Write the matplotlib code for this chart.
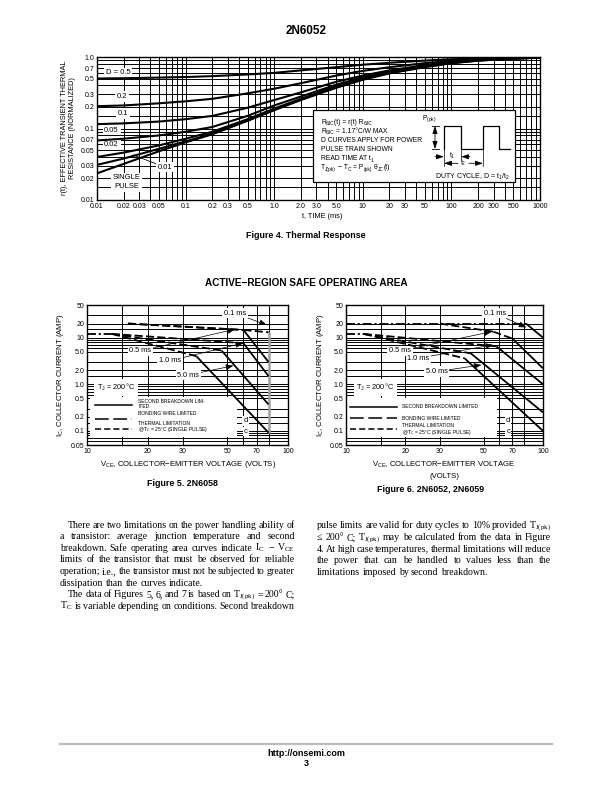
import matplotlib
matplotlib.use('Agg')
import matplotlib.pyplot as plt
from matplotlib import font_manager
from matplotlib.patches import Rectangle
from matplotlib.ticker import FixedLocator, FixedFormatter, NullFormatter

# fonts
names = {f.name for f in font_manager.fontManager.ttflist}
NARROW = 'Liberation Sans Narrow' if 'Liberation Sans Narrow' in names else 'Liberation Sans'
SANS = 'Liberation Sans'
SERIF = 'Liberation Serif'
plt.rcParams['font.family'] = [NARROW, 'DejaVu Sans']
plt.rcParams['mathtext.default'] = 'regular'

# ---------------- data ----------------
# Figure 4, thermal response
t_ms = [0.01, 0.02, 0.05, 0.1, 0.2, 0.5, 1, 2, 5, 10, 20, 50, 100, 200, 500, 1000]
r_d050 = [0.50, 0.505, 0.515, 0.525, 0.54, 0.57, 0.60, 0.65, 0.72, 0.78, 0.83, 0.89, 0.93, 0.96, 0.98, 1.0]
r_d020 = [0.205, 0.21, 0.225, 0.24, 0.26, 0.31, 0.36, 0.43, 0.55, 0.64, 0.72, 0.82, 0.88, 0.93, 0.97, 0.99]
r_d010 = [0.115, 0.118, 0.125, 0.135, 0.15, 0.195, 0.25, 0.32, 0.45, 0.55, 0.65, 0.77, 0.85, 0.91, 0.96, 0.98]
r_d005 = [0.068, 0.072, 0.08, 0.09, 0.105, 0.15, 0.21, 0.28, 0.41, 0.52, 0.62, 0.75, 0.84, 0.90, 0.95, 0.98]
r_d002 = [0.04, 0.046, 0.058, 0.072, 0.09, 0.135, 0.19, 0.26, 0.39, 0.50, 0.61, 0.74, 0.83, 0.90, 0.95, 0.98]
r_d001 = [0.031, 0.038, 0.052, 0.066, 0.085, 0.13, 0.185, 0.255, 0.38, 0.49, 0.60, 0.73, 0.82, 0.89, 0.95, 0.98]
r_single = [0.0236, 0.032, 0.048, 0.064, 0.083, 0.128, 0.18, 0.25, 0.37, 0.48, 0.59, 0.72, 0.82, 0.89, 0.95, 0.98]
fig4_curves = [r_d050, r_d020, r_d010, r_d005, r_d002, r_d001, r_single]
fig4_labels = ['D = 0.5', '0.2', '0.1', '0.05', '0.02', '0.01', 'SINGLE\nPULSE']
fig4_label_t = [0.0174, 0.019, 0.0198, 0.0146, 0.0146, 0.0585, 0.0216]
fig4_label_r = [0.60, 0.279, 0.163, 0.095, 0.060, 0.0287, 0.0177]
fig4_xticks = [0.01, 0.02, 0.03, 0.05, 0.1, 0.2, 0.3, 0.5, 1, 2, 3, 5, 10, 20, 30, 50, 100, 200, 300, 500, 1000]
fig4_xticklabels = ['0.01', '0.02', '0.03', '0.05', '0.1', '0.2', '0.3', '0.5', '1.0', '2.0', '3.0', '5.0',
                    '10', '20', '30', '50', '100', '200', '300', '500', '1000']
fig4_yticks = [0.01, 0.02, 0.03, 0.05, 0.07, 0.1, 0.2, 0.3, 0.5, 0.7, 1.0]
fig4_yticklabels = ['0.01', '0.02', '0.03', '0.05', '0.07', '0.1', '0.2', '0.3', '0.5', '0.7', '1.0']
# info box lines: (text, is_subscript); a leading space means a word gap
fig4_info = [[('R', 0), ('θJC', 1), ('(t) = r(t) R', 0), ('θJC', 1)],
             [('R', 0), ('θJC', 1), (' = 1.17°C/W MAX', 0)],
             [('D CURVES APPLY FOR POWER', 0)],
             [('PULSE TRAIN SHOWN', 0)],
             [('READ TIME AT t', 0), ('1', 1)],
             [('T', 0), ('J(pk)', 1), (' − T', 0), ('C', 1), (' = P', 0), ('(pk)', 1),
              (' θ', 0), ('JC', 1), ('(t)', 0)]]

# Figure 5 (2N6058) and Figure 6 (2N6052, 2N6059): (VCE, IC) corners + segment style
# styles: bw = bonding wire, th = thermal, sb = second breakdown, vc = VCEO edge
f5_v = {'0.1 ms': [16, 60, 80, 80], '0.5 ms': [16, 60, 80], '1.0 ms': [13.3, 60, 80],
        '5.0 ms': [13.3, 46.7, 80], 'dc': [10, 13.3, 35, 80]}
f5_i = {'0.1 ms': [20, 14.6, 13, 0.09], '0.5 ms': [20, 14.6, 3.0], '1.0 ms': [12, 7.6, 1.5],
        '5.0 ms': [12, 5.3, 0.37], 'dc': [12, 12, 4.0, 0.092]}
f5_s = {'0.1 ms': ['th', 'th', 'vc'], '0.5 ms': ['th', 'sb'], '1.0 ms': ['th', 'sb'],
        '5.0 ms': ['th', 'sb'], 'dc': ['bw', 'th', 'sb']}

f6_v = {'0.1 ms': [10, 82, 100], '0.5 ms': [30, 56, 70, 100], '1.0 ms': [12.3, 58, 100],
        '5.0 ms': [12.3, 43, 100], 'dc': [10, 12.3, 40, 100]}
f6_i = {'0.1 ms': [20, 20, 10], '0.5 ms': [20, 13.4, 9.5, 2.2], '1.0 ms': [12, 6.5, 1.0],
        '5.0 ms': [12, 4.6, 0.25], 'dc': [12, 12, 3.6, 0.1]}
f6_s = {'0.1 ms': ['bw', 'sb'], '0.5 ms': ['th', 'th', 'sb'], '1.0 ms': ['th', 'sb'],
        '5.0 ms': ['th', 'sb'], 'dc': ['bw', 'th', 'sb']}

# label text positions and pointer targets
f5_lab = {'0.1 ms': ((54.5, 33.2), (78.4, 18.7)), '0.5 ms': ((18.4, 5.18), (54.5, 15.1)),
          '1.0 ms': ((25.9, 3.21), (59.8, 7.6)), '5.0 ms': ((31.9, 1.58), (53.5, 2.5))}
f6_lab = {'0.1 ms': ((57.0, 33.2), (82.3, 16.5)), '0.5 ms': ((18.8, 5.18), (54.8, 13.4)),
          '1.0 ms': ((23.3, 3.61), (55.8, 7.0)), '5.0 ms': ((28.9, 1.87), (48.7, 2.6))}

soa_xticks = [10, 20, 30, 50, 70, 100]
soa_xgrid = [15, 20, 30, 50, 60, 70, 80]
soa_yticks = [0.05, 0.1, 0.2, 0.5, 1.0, 2.0, 5.0, 10, 20, 50]
soa_yticklabels = ['0.05', '0.1', '0.2', '0.5', '1.0', '2.0', '5.0', '10', '20', '50']
soa_ymult = [1, 1.5, 2, 3, 5, 6, 7, 8, 9]

body_left = ['There are two limitations on the power handling ability of',
             'a transistor: average junction temperature and second',
             'breakdown. Safe operating area curves indicate I$_C$ − V$_{CE}$',
             'limits of the transistor that must be observed for reliable',
             'operation; i.e., the transistor must not be subjected to greater',
             'dissipation than the curves indicate.',
             'The data of Figures 5, 6, and 7 is based on T$_{J(pk)}$ = 200° C;',
             'T$_C$ is variable depending on conditions. Second breakdown']
body_left_indent = [1, 0, 0, 0, 0, 0, 1, 0]
body_left_last = [0, 0, 0, 0, 0, 1, 0, 0]
body_right = ['pulse limits are valid for duty cycles to 10% provided T$_{J(pk)}$',
              '≤  200° C; T$_{J(pk)}$ may be calculated from the data in Figure',
              '4. At high case temperatures, thermal limitations will reduce',
              'the power that can be handled to values less than the',
              'limitations imposed by second breakdown.']
body_right_indent = [0, 0, 0, 0, 0]
body_right_last = [0, 0, 0, 0, 1]

# ---------------- figure ----------------
fig = plt.figure(figsize=(6.12, 7.92), dpi=100)


def px_axes(l, t, r, b):
    return fig.add_axes([l / 612, 1 - b / 792, (r - l) / 612, (b - t) / 792])


def log_grid(lo, hi, mult):
    out = []
    d = lo
    while d < hi * 0.999:
        out += [d * m for m in mult if lo <= d * m <= hi]
        d *= 10
    out.append(hi)
    return out


def setup_log(ax, xlim, ylim, xt, xtl, yt, ytl, xg, yg):
    ax.set_xscale('log')
    ax.set_yscale('log')
    ax.set_xlim(*xlim)
    ax.set_ylim(*ylim)
    ax.xaxis.set_major_locator(FixedLocator(xt))
    ax.xaxis.set_major_formatter(FixedFormatter(xtl))
    ax.yaxis.set_major_locator(FixedLocator(yt))
    ax.yaxis.set_major_formatter(FixedFormatter(ytl))
    ax.xaxis.set_minor_locator(FixedLocator(xg))
    ax.yaxis.set_minor_locator(FixedLocator(yg))
    ax.xaxis.set_minor_formatter(NullFormatter())
    ax.yaxis.set_minor_formatter(NullFormatter())
    ax.tick_params(which='both', length=0, labelsize=5, pad=2)
    ax.grid(which='both', color='k', lw=0.7)
    ax.set_axisbelow(True)
    for s in ax.spines.values():
        s.set_linewidth(1.0)


box = dict(facecolor='white', edgecolor='none', pad=1.2)

# ----- Figure 4 -----
ax4 = px_axes(97, 57, 540, 200)
setup_log(ax4, (0.01, 1000), (0.01, 1.0), fig4_xticks, fig4_xticklabels,
          fig4_yticks, fig4_yticklabels,
          log_grid(0.01, 1000, range(1, 10)), log_grid(0.01, 1.0, [1, 1.5, 2, 3, 4, 5, 6, 7, 8, 9]))
for r in fig4_curves:
    ax4.plot(t_ms, r, color='k', lw=1.5, zorder=3, solid_capstyle='butt')
for lab, tx, ry in zip(fig4_labels, fig4_label_t, fig4_label_r):
    if lab == '0.01':
        ax4.annotate(lab, xy=(0.0257, 0.0426), xytext=(tx, ry), ha='center', va='center',
                     fontsize=5.5, bbox=box, zorder=2.5,
                     arrowprops=dict(arrowstyle='-', lw=0.6, shrinkA=0, shrinkB=0))
    else:
        ax4.text(tx, ry, lab, ha='center', va='center', fontsize=5.5, bbox=box,
                 zorder=2.5, linespacing=1.35)

# ----- Figures 5, 6 -----
styles = {'sb': dict(color='k', ls='-', lw=1.3),
          'th': dict(color='k', ls=(0, (4.5, 1.8)), lw=1.3),
          'bw': dict(color='k', ls=(0, (5, 1.5, 1.2, 1.5)), lw=1.3),
          'vc': dict(color='#a0a0a0', ls='-', lw=1.8)}


def soa(ax, V, I, S, labs, legend_rows, leg_box, legx, txt_x, tj, dc_xy):
    setup_log(ax, (10, 100), (0.05, 50), soa_xticks, [str(v) for v in soa_xticks],
              soa_yticks, soa_yticklabels, soa_xgrid, log_grid(0.01, 50, soa_ymult))
    for key in V:
        v, i, s = V[key], I[key], S[key]
        for k in range(len(s)):
            ax.plot(v[k:k + 2], i[k:k + 2], zorder=3, solid_capstyle='butt', **styles[s[k]])
    for key, (txt, tip) in labs.items():
        ax.annotate(key, xy=tip, xytext=txt, ha='center', va='center', fontsize=5.3,
                    bbox=box, zorder=2.5,
                    arrowprops=dict(arrowstyle='-|>,head_length=0.9,head_width=0.35',
                                    mutation_scale=5, lw=0.5, color='k',
                                    shrinkA=0, shrinkB=0))
    ax.text(tj[0], tj[1], 'T$_J$ = 200°C', ha='left', va='center', fontsize=5.3,
            bbox=dict(facecolor='white', edgecolor='none', pad=2), zorder=2.5)
    ax.text(dc_xy[0], dc_xy[1], 'd', ha='center', va='center', fontsize=5.5, zorder=2.5,
            bbox=dict(facecolor='white', edgecolor='none', pad=0.8))
    ax.text(dc_xy[0], dc_xy[2], 'c', ha='center', va='center', fontsize=5.5, zorder=2.5,
            bbox=dict(facecolor='white', edgecolor='none', pad=0.8))
    ax.add_patch(Rectangle((leg_box[0], leg_box[1]), leg_box[2], leg_box[3],
                           transform=ax.transAxes, facecolor='white', edgecolor='none', zorder=2))
    leg_ls = {'sb': '-', 'bw': (0, (9, 3)), 'th': (0, (4, 2))}
    for kind, ly, texts in legend_rows:
        if kind:
            ax.plot(legx, [ly, ly], transform=ax.transAxes, color='k', lw=1.1,
                    ls=leg_ls[kind], zorder=4)
        for tt, ty in texts:
            ax.text(txt_x, ty, tt, transform=ax.transAxes, fontsize=3.6, va='center',
                    ha='left', zorder=4)


ax5 = px_axes(87, 305, 288, 445)
soa(ax5, f5_v, f5_i, f5_s, f5_lab,
    [('sb', 0.286, [('SECOND BREAKDOWN LIM-', 0.312), ('ITED', 0.272)]),
     ('bw', 0.186, [('BONDING WIRE LIMITED', 0.225)]),
     ('th', 0.112, [('THERMAL LIMITATION', 0.152), ('@T$_C$ = 25°C (SINGLE PULSE)', 0.108)])],
    (0.015, 0.059, 0.73, 0.285), [0.04, 0.222], 0.255, (11.2, 0.85), (61.6, 0.164, 0.097))

ax6 = px_axes(346, 305, 543, 445)
soa(ax6, f6_v, f6_i, f6_s, f6_lab,
    [('sb', 0.274, [('SECOND BREAKDOWN LIMITED', 0.274)]),
     ('bw', 0.19, [('BONDING WIRE LIMITED', 0.19)]),
     ('th', 0.112, [('THERMAL LIMITATION', 0.138), ('@T$_C$ = 25°C (SINGLE PULSE)', 0.092)])],
    (0.005, 0.059, 0.76, 0.275), [0.022, 0.258], 0.283, (11.3, 0.85), (66.5, 0.164, 0.097))

# ----- page overlay in pixel coordinates -----
page = fig.add_axes([0, 0, 1, 1], zorder=10)
page.set_xlim(0, 612)
page.set_ylim(792, 0)
page.axis('off')
page.patch.set_alpha(0)
renderer = fig.canvas.get_renderer()

page.text(306, 31, '2N6052', ha='center', va='center', fontsize=8.5, weight='bold', family=SANS)
page.text(306, 236, 'Figure 4. Thermal Response', ha='center', va='center', fontsize=6.4,
          weight='bold', family=SANS)
page.text(306, 283, 'ACTIVE−REGION SAFE OPERATING AREA', ha='center', va='center', fontsize=7.2,
          weight='bold', family=SANS)
page.text(182, 484, 'Figure 5. 2N6058', ha='center', va='center', fontsize=6.4, weight='bold',
          family=SANS)
page.text(431, 490, 'Figure 6. 2N6052, 2N6059', ha='center', va='center', fontsize=6.4,
          weight='bold', family=SANS)

page.text(322, 216, 't, TIME (ms)', ha='center', va='center', fontsize=5.3)
page.text(69, 128, 'r(t), EFFECTIVE TRANSIENT THERMAL\nRESISTANCE (NORMALIZED)', ha='center',
          va='center', rotation=90, fontsize=5.3, linespacing=1.2)
page.text(188, 465, 'V$_{CE}$, COLLECTOR−EMITTER VOLTAGE (VOLTS)', ha='center', va='center',
          fontsize=5.6)
page.text(444, 465, 'V$_{CE}$, COLLECTOR−EMITTER VOLTAGE', ha='center', va='center', fontsize=5.6)
page.text(444, 476, '(VOLTS)', ha='center', va='center', fontsize=5.6)
page.text(61, 375, 'I$_C$, COLLECTOR CURRENT (AMP)', ha='center', va='center', rotation=90,
          fontsize=5.6)
page.text(320, 375, 'I$_C$, COLLECTOR CURRENT (AMP)', ha='center', va='center', rotation=90,
          fontsize=5.6)


def rich(x, y, parts, size):
    # plain text pieces with hand-placed subscripts
    sp = (page.text(0, 0, 'a a', fontsize=size).get_window_extent(renderer=renderer).width
          - page.text(0, 0, 'aa', fontsize=size).get_window_extent(renderer=renderer).width)
    page.texts[-1].remove()
    page.texts[-1].remove()
    for s, sub in parts:
        if s.startswith(' '):
            x += sp
            s = s.lstrip()
        fs = size * 0.72 if sub else size
        t = page.text(x, y + (1.6 if sub else 0), s, fontsize=fs, ha='left', va='baseline')
        x += t.get_window_extent(renderer=renderer).width


# thermal response info box
page.add_patch(Rectangle((313, 110), 202, 72, facecolor='white', edgecolor='k', lw=0.9))
for k, parts in enumerate(fig4_info):
    rich(321, 123.5 + k * 9.1, parts, 4.85)
pulse_x = [444, 444, 461, 461, 483, 483, 499, 499, 510]
pulse_y = [149, 126, 126, 149, 149, 126, 126, 149, 149]
page.plot(pulse_x, pulse_y, color='k', lw=0.9)
page.text(429, 118.5, 'P$_{(pk)}$', ha='center', va='center', fontsize=4.85)
page.annotate('', xy=(435, 126), xytext=(435, 149),
              arrowprops=dict(arrowstyle='<|-|>,head_length=0.45,head_width=0.15', lw=0.6,
                              color='k', shrinkA=0, shrinkB=0))
page.plot([432, 439], [126, 126], color='k', lw=0.6)
page.plot([432, 439], [149, 149], color='k', lw=0.6)
page.plot([444, 444], [149, 166], color='k', lw=0.5)
page.plot([483, 483], [149, 166], color='k', lw=0.5)
page.plot([461, 461], [149, 159], color='k', lw=0.5)
arw = dict(arrowstyle='-|>,head_length=0.45,head_width=0.15', lw=0.6, color='k',
           shrinkA=0, shrinkB=0)
page.annotate('', xy=(444, 156.7), xytext=(435, 156.7), arrowprops=arw)
page.annotate('', xy=(461, 156.7), xytext=(470, 156.7), arrowprops=arw)
page.text(452, 155.5, 't$_1$', ha='center', va='center', fontsize=4.85)
page.annotate('', xy=(444, 163.3), xytext=(458, 163.3), arrowprops=arw)
page.annotate('', xy=(483, 163.3), xytext=(469, 163.3), arrowprops=arw)
page.text(463.5, 163, 't$_2$', ha='center', va='center', fontsize=4.85)
page.text(472, 176.5, 'DUTY CYCLE, D = t$_1$/t$_2$', ha='center', va='center', fontsize=5)


# body text, justified
def text_w(s, size):
    t = page.text(0, 0, s, fontsize=size, family=SERIF)
    w = t.get_window_extent(renderer=renderer).width
    t.remove()
    return w


def body(lines, indents, lasts, x0, x1, y0, dy, size=7.1):
    space = text_w('a a', size) - text_w('aa', size)
    for k, line in enumerate(lines):
        words = line.split()
        xs = x0 + (8 if indents[k] else 0)
        objs = [page.text(0, y0 + k * dy, w, fontsize=size, family=SERIF, ha='left',
                          va='baseline') for w in words]
        widths = [o.get_window_extent(renderer=renderer).width for o in objs]
        if lasts[k] or len(words) == 1:
            gap = space
        else:
            gap = max((x1 - xs - sum(widths)) / (len(words) - 1), space * 0.6)
        x = xs
        for o, w in zip(objs, widths):
            o.set_x(x)
            x += w + gap


body(body_left, body_left_indent, body_left_last, 60, 294.5, 527.5, 11.6)
body(body_right, body_right_indent, body_right_last, 317, 551, 528.5, 11.6)

page.plot([60, 552], [744, 744], color='#bdbdbd', lw=1.6)
page.text(306, 753, 'http://onsemi.com', ha='center', va='center', fontsize=6.5, weight='bold',
          family=SANS)
page.text(306, 763.5, '3', ha='center', va='center', fontsize=6.5, weight='bold', family=SANS)

fig.savefig('out.png', dpi=100)
